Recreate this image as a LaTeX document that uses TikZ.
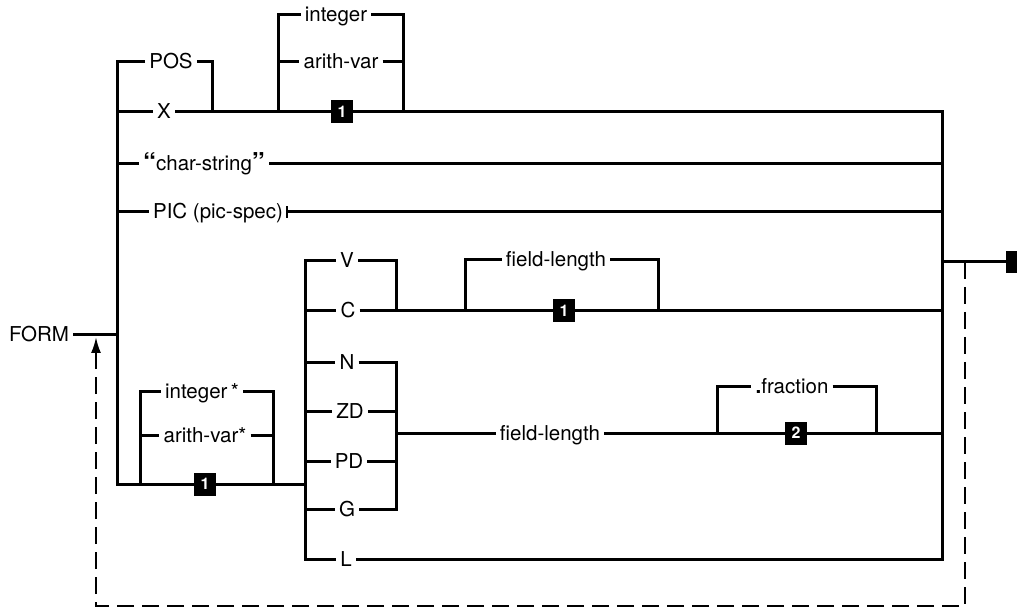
\documentclass[tikz,border=0pt]{standalone}
\usepackage{fontspec}
\setmainfont{TeX Gyre Heros}
\usetikzlibrary{arrows.meta}
\tikzset{
  rr/.style={line width=3pt, line join=miter},
  lbl/.style={font=\fontsize{20.5}{24}\selectfont, text height=15pt, text depth=1pt, inner xsep=4pt, inner ysep=0pt},
  numbox/.style={fill=black, text=white, font=\bfseries\fontsize{16}{16}\selectfont, minimum width=22pt, minimum height=23pt, inner sep=0pt},
  dsh/.style={line width=2pt, dash pattern=on 17pt off 8pt},
}
\begin{document}
\begin{tikzpicture}[x=1pt,y=-1pt]
\useasboundingbox (0,0) rectangle (1017,609);
% ---------- labels ----------
\node[lbl] (FORM) at (39,335) {FORM};
\node[lbl] (POS) at (171,62) {POS};
\node[lbl] (X) at (164,112) {X};
\node[lbl] (integer) at (336,15) {integer};
\node[lbl] (arith) at (341,62) {arith-var};
\node[numbox] (B1a) at (342,112) {1};
\node[lbl] (CS) at (204,164) {{\bfseries\fontsize{26}{26}\selectfont\raisebox{-1pt}{“}}char-string{\bfseries\fontsize{26}{26}\selectfont\raisebox{-1pt}{”}}};
\node[lbl] (PIC) at (218,212) {PIC (pic-spec)};
\node[lbl] (V) at (347,261) {V};
\node[lbl] (C) at (348,311) {C};
\node[lbl] (N) at (347,363) {N};
\node[lbl] (ZD) at (350,411) {ZD};
\node[lbl] (PD) at (349,461) {PD};
\node[lbl] (G) at (347,509) {G};
\node[lbl] (L) at (346,559) {L};
\node[lbl] (FLa) at (556,260) {field-length};
\node[numbox] (B1b) at (564,311) {1};
\node[lbl] (FLb) at (550,433) {field-length};
\node[lbl] (frac) at (792,386) {{\bfseries .}fraction};
\node[numbox] (B2) at (796,433) {2};
\node[lbl] (intS) at (202,391) {integer\,*};
\node[lbl] (arS) at (205,435) {arith-var*};
\node[numbox] (B1c) at (205,484) {1};
\node[fill=black, minimum width=14pt, minimum height=22pt, inner sep=0pt, anchor=west] (endbox) at (1006,262) {};
% ---------- junction coordinates ----------
\coordinate (cForm) at (117,335);
\coordinate (cMainBot) at (117,484);
\coordinate (cLoopR) at (305,484);
\coordinate (cPOSr) at (212,112);
\coordinate (cXl) at (117,112);
\coordinate (cRL) at (942,559);
\coordinate (cTl) at (278,112);
\coordinate (cTr) at (403,112);
\coordinate (cAl) at (278,62);
\coordinate (cAr) at (403,62);
\coordinate (cCSl) at (117,164);
\coordinate (cCSr) at (942,164);
\coordinate (cPICl) at (117,212);
\coordinate (cPICr) at (942,212);
\coordinate (cIl) at (140,484);
\coordinate (cIr) at (273,484);
\coordinate (cAsl) at (140,435);
\coordinate (cAsr) at (273,435);
\coordinate (cVLb) at (305,559);
\coordinate (cVCr) at (396,311);
\coordinate (cCl) at (305,311);
\coordinate (cCr) at (942,311);
\coordinate (cFl) at (465,311);
\coordinate (cFr) at (658,311);
\coordinate (cNl) at (305,363);
\coordinate (cNGb) at (396,509);
\coordinate (cGl) at (305,509);
\coordinate (cZl) at (305,411);
\coordinate (cZr) at (396,411);
\coordinate (cPl) at (305,461);
\coordinate (cPr) at (396,461);
\coordinate (cMidl) at (396,433);
\coordinate (cMidr) at (942,433);
\coordinate (cFrl) at (717,433);
\coordinate (cFrr) at (876,433);
\coordinate (cExit) at (942,262);
\coordinate (cDs) at (965,262);
\coordinate (cDb) at (96,606);
\coordinate (cDe) at (96,337);
% ---------- connectors ----------
\draw[rr] (FORM) -- (cForm);
\draw[rr] (POS) -| (cMainBot) -- (B1c) -- (cLoopR);
\draw[rr] (POS) -| (cPOSr);
\draw[rr] (cXl) -- (X) -- (B1a) -| (cRL) -- (L);
\draw[rr] (cTl) |- (integer);
\draw[rr] (integer) -| (cTr);
\draw[rr] (cAl) -- (arith) -- (cAr);
\draw[rr] (cCSl) -- (CS) -- (cCSr);
\draw[rr] (cPICl) -- (PIC) -- (cPICr);
\draw[line width=1.5pt] ([yshift=-6pt]PIC.east) -- ([yshift=6pt]PIC.east);
\draw[rr] (cIl) |- (intS);
\draw[rr] (intS) -| (cIr);
\draw[rr] (cAsl) -- (arS) -- (cAsr);
\draw[rr] (V) -| (cVLb) -- (L);
\draw[rr] (V) -| (cVCr);
\draw[rr] (cCl) -- (C) -- (B1b) -- (cCr);
\draw[rr] (cFl) |- (FLa);
\draw[rr] (FLa) -| (cFr);
\draw[rr] (cNl) -- (N) -| (cNGb) -- (G) -- (cGl);
\draw[rr] (cZl) -- (ZD) -- (cZr);
\draw[rr] (cPl) -- (PD) -- (cPr);
\draw[rr] (cMidl) -- (FLb) -- (B2) -- (cMidr);
\draw[rr] (cFrl) |- (frac);
\draw[rr] (frac) -| (cFrr);
\draw[rr] (cExit) -- (endbox);
\draw[dsh, -{Latex[length=16pt,width=10pt]}] (cDs) |- (cDb) -- (cDe);
\end{tikzpicture}
\end{document}
